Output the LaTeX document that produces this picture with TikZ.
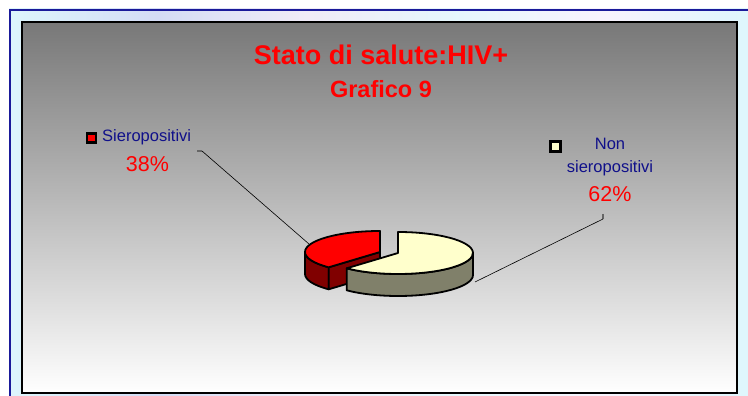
\documentclass[tikz,border=0pt]{standalone}
\usepackage{fontspec}
\setmainfont{Liberation Sans}
\usetikzlibrary{calc}
\definecolor{framebg}{HTML}{D4DCF5}
\definecolor{frameblue}{HTML}{1A1A9A}
\definecolor{legblue}{HTML}{10108A}
\definecolor{pred}{HTML}{FF0000}
\definecolor{pdred}{HTML}{800000}
\definecolor{pcream}{HTML}{FFFFCC}
\definecolor{pside}{HTML}{80806A}
\pgfdeclarehorizontalshading{framesh}{100bp}{color(0bp)=(framebg); color(25bp)=(framebg!75!cyan!35); color(35bp)=(framebg); color(45bp)=(framebg!80!violet!25); color(55bp)=(framebg!80!cyan!30); color(65bp)=(framebg!85!magenta!18); color(75bp)=(framebg!75!cyan!35); color(100bp)=(framebg)}
\tikzset{
  slice/.style={draw=black, line width=1.8pt, line join=round},
  leader/.style={draw=black, line width=0.6pt},
  ltick/.style={draw=black!60, line width=1.4pt},
  legtext/.style={inner sep=0pt, anchor=base, text=legblue, font=\fontsize{16.5}{19}\selectfont},
  pcttext/.style={inner sep=0pt, anchor=base, text=pred, font=\fontsize{21.5}{24}\selectfont},
  marker/.style={draw=black, line width=2.4pt, minimum size=9pt, inner sep=0pt},
}
\begin{document}
\begin{tikzpicture}[x=1pt,y=1pt]
\useasboundingbox (0,0) rectangle (748,396);
\fill[white] (0,0) rectangle (748,396);
% outer textured frame
\shade[shading=framesh] (9,-3) rectangle (752,387);
\draw[frameblue, line width=2pt] (10,-3) -- (10,386) -- (752,386);
% chart area
\shade[top color=black!53, bottom color=white, draw=black, line width=1.6pt] (22,3) rectangle (737,374);
% titles
\node[inner sep=0pt, anchor=base, text=pred, font=\bfseries\fontsize{27}{30}\selectfont] (title) at (381,331) {Stato di salute:HIV+};
\node[inner sep=0pt, anchor=base, text=pred, font=\bfseries\fontsize{23.5}{26}\selectfont] (sub) at (381,298) {Grafico 9};
% pie centres
\coordinate (C) at (398,143);
\coordinate (R) at (380,144);
% red slice (38%)
\draw[slice, fill=pdred] ($(R)+(180:75 and 21)$) arc[start angle=180, end angle=226.8, x radius=75, y radius=21] -- ++(0,-22) arc[start angle=226.8, end angle=180, x radius=75, y radius=21] -- cycle;
\draw[slice, fill=pdred] (R) -- ($(R)+(226.8:75 and 21)$) -- ++(0,-22) -- ($(R)+(0,-22)$) -- cycle;
\draw[slice, fill=pred] (R) -- ($(R)+(90:75 and 21)$) arc[start angle=90, end angle=226.8, x radius=75, y radius=21] -- cycle;
% cream slice (62%)
\draw[slice, fill=pside] ($(C)+(-133.2:75 and 21)$) arc[start angle=-133.2, end angle=0, x radius=75, y radius=21] -- ++(0,-22) arc[start angle=0, end angle=-133.2, x radius=75, y radius=21] -- cycle;
\draw[slice, fill=pcream] (C) -- ($(C)+(-133.2:75 and 21)$) arc[start angle=-133.2, end angle=90, x radius=75, y radius=21] -- cycle;
% legend / labels left
\node[marker, fill=pred] (m1) at (91.5,258) {};
\node[legtext, anchor=base west] (l1) at (102,254) {Sieropositivi};
\node[pcttext] (p1) at (147.5,224) {38\%};
% labels right
\node[marker, fill=pcream, minimum size=10pt] (m2) at (555.5,249.5) {};
\node[legtext] (l2a) at (610,246) {Non};
\node[legtext] (l2b) at (610,223) {sieropositivi};
\node[pcttext] (p2) at (610,194) {62\%};
% leader lines
\coordinate (t1a) at (197,245);
\coordinate (t1b) at (202,245);
\coordinate (e1) at (309,152);
\draw[ltick] (t1a) -- (t1b);
\draw[leader] (t1b) -- (e1);
\coordinate (t2a) at (603,182);
\coordinate (t2b) at (603,177);
\coordinate (e2) at (475,114);
\draw[ltick] (t2a) -- (t2b);
\draw[leader] (t2b) -- (e2);
\end{tikzpicture}
\end{document}
